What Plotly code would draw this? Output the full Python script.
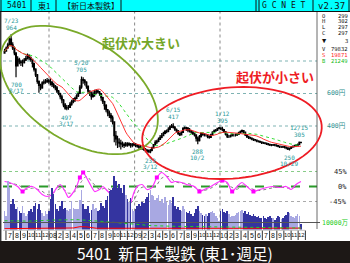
import numpy as np
import pandas as pd
import plotly.graph_objects as go

W, H = 350, 263
def xp(v): return v / W
def yp(v): return 1 - v / H

# ---------------- data ----------------
week_start = "2007-06-25"
first_open = 848
last_open = 299
close = [860, 880, 900, 935, 900, 880, 850, 770, 810, 795,
         790, 790, 805, 815, 835, 820, 810, 785, 750, 715,
         675, 650, 635, 665, 670, 675, 680, 675, 670, 655,
         645, 635, 615, 600, 580, 560, 530, 510, 515, 515,
         535, 550, 560, 570, 585, 600, 640, 685, 680, 670,
         645, 615, 600, 580, 595, 610, 615, 610, 600, 575,
         550, 525, 500, 480, 465, 450, 425, 340, 320, 300,
         295, 290, 285, 280, 290, 285, 290, 282, 285, 288,
         280, 276, 270, 265, 262, 258, 250, 245, 240, 250,
         265, 285, 300, 305, 318, 330, 340, 355, 365, 368,
         380, 395, 400, 392, 380, 370, 355, 345, 360, 385,
         390, 385, 375, 370, 362, 355, 345, 325, 310, 335,
         355, 350, 345, 345, 335, 330, 345, 362, 370, 375,
         385, 388, 383, 378, 365, 350, 335, 335, 340, 345,
         345, 345, 348, 358, 365, 372, 362, 345, 335, 330,
         326, 320, 316, 314, 308, 305, 302, 298, 296, 294,
         290, 287, 284, 283, 284, 283, 279, 276, 272, 272,
         271, 270, 265, 258, 262, 270, 275, 277, 281, 286,
         300, 297]
high = [875, 890, 912, 945, 964, 915, 890, 850, 830, 820,
        806, 810, 818, 832, 846, 840, 828, 812, 790, 755,
        720, 680, 660, 676, 686, 690, 696, 690, 692, 675,
        666, 652, 646, 622, 605, 592, 566, 542, 530, 530,
        548, 562, 572, 580, 595, 612, 652, 705, 700, 690,
        675, 645, 620, 612, 612, 623, 626, 623, 615, 600,
        580, 555, 535, 505, 495, 480, 465, 420, 370, 340,
        325, 315, 305, 298, 302, 300, 300, 296, 295, 298,
        295, 290, 284, 283, 275, 270, 265, 258, 255, 258,
        272, 290, 312, 316, 330, 345, 357, 365, 375, 378,
        392, 405, 412, 417, 400, 385, 375, 360, 368, 392,
        397, 396, 394, 388, 375, 368, 360, 348, 335, 345,
        362, 362, 356, 352, 348, 342, 352, 368, 378, 382,
        390, 394, 392, 395, 380, 368, 352, 345, 348, 352,
        353, 354, 355, 364, 372, 378, 376, 365, 348, 340,
        334, 330, 325, 320, 317, 312, 310, 306, 303, 300,
        298, 295, 291, 290, 290, 290, 287, 283, 280, 278,
        278, 277, 274, 268, 268, 275, 280, 284, 287, 292,
        305, 302]
low = [845, 858, 875, 895, 890, 868, 836, 700, 770, 780,
       770, 765, 785, 800, 810, 805, 795, 760, 735, 702,
       660, 605, 620, 630, 655, 660, 665, 660, 650, 640,
       632, 620, 603, 590, 565, 540, 515, 500, 497, 500,
       512, 525, 540, 548, 565, 578, 600, 630, 660, 650,
       630, 600, 585, 562, 575, 580, 595, 600, 585, 555,
       535, 500, 485, 460, 450, 425, 410, 300, 280, 265,
       270, 255, 270, 265, 272, 272, 275, 266, 270, 276,
       270, 266, 260, 254, 252, 248, 238, 236, 235, 233,
       245, 262, 280, 290, 300, 315, 325, 338, 350, 355,
       362, 375, 388, 385, 370, 360, 345, 338, 342, 362,
       378, 370, 362, 360, 352, 345, 335, 305, 288, 305,
       330, 340, 336, 335, 325, 322, 328, 342, 358, 365,
       370, 378, 375, 368, 358, 342, 326, 326, 330, 335,
       336, 335, 338, 345, 355, 360, 355, 338, 326, 320,
       318, 312, 308, 306, 300, 298, 295, 290, 289, 287,
       283, 280, 277, 276, 277, 276, 272, 269, 265, 265,
       264, 262, 257, 252, 250, 258, 266, 270, 274, 278,
       284, 297]
# weekly volume (thousand shares)
volume = [270000, 200000, 700000, 600000, 370000, 440000, 370000, 300000, 320000, 270000,
          230000, 340000, 240000, 200000, 220000, 260000, 300000, 250000, 330000, 380000,
          300000, 360000, 280000, 240000, 200000, 260000, 220000, 270000, 440000, 600000,
          510000, 370000, 300000, 270000, 340000, 410000, 300000, 310000, 280000, 270000,
          300000, 410000, 310000, 300000, 290000, 300000, 420000, 560000, 370000, 300000,
          300000, 330000, 240000, 280000, 370000, 300000, 310000, 260000, 280000, 380000,
          340000, 310000, 420000, 480000, 550000, 560000, 600000, 770000, 700000, 600000,
          650000, 600000, 520000, 640000, 500000, 440000, 400000, 450000, 300000, 260000,
          300000, 340000, 360000, 330000, 400000, 380000, 430000, 470000, 520000, 560000,
          500000, 480000, 420000, 450000, 500000, 400000, 430000, 380000, 460000, 400000,
          350000, 420000, 380000, 460000, 340000, 300000, 320000, 280000, 260000, 340000,
          300000, 250000, 230000, 270000, 220000, 200000, 240000, 300000, 330000, 260000,
          240000, 210000, 190000, 220000, 200000, 230000, 250000, 270000, 230000, 200000,
          170000, 120000, 260000, 300000, 250000, 230000, 270000, 220000, 180000, 200000,
          190000, 210000, 230000, 250000, 260000, 280000, 240000, 260000, 220000, 250000,
          210000, 190000, 220000, 200000, 180000, 200000, 170000, 160000, 190000, 170000,
          150000, 180000, 200000, 170000, 160000, 140000, 170000, 200000, 180000, 150000,
          160000, 190000, 210000, 250000, 230000, 200000, 180000, 170000, 200000, 220000,
          190000, 79832]

osc_week = [0, 3, 8, 11, 14, 17, 20, 23, 26, 29, 32, 34, 37, 39, 41, 44, 46, 48, 50, 53,
            55, 58, 60, 62, 65, 68, 71, 74, 77, 79, 81, 84, 87, 90, 93, 96, 99, 102, 104, 108,
            111, 116, 119, 122, 126, 130, 133, 136, 139, 142, 145, 148, 152, 156, 160, 164,
            168, 172, 175, 178, 181]
osc_val = [15, 12, 0, -15, -3, 0, -9, -24, -30, -24, -3, 6, -15, -33, -24, 0, 27, 42, 27, 0,
           -15, -9, 0, -9, -24, -45, -60, -63, -48, -18, 0, 6, -9, -3, 27, 42, 30, 12, 15, 12,
           6, 0, -15, -9, 0, 12, 18, 12, -15, 0, 12, 0, -15, -9, -3, 0, -3, 0, -9, 6, 15]
sig_week = [2, 8, 13, 17, 22, 27, 31, 35, 39, 43, 47, 50, 54, 58, 62, 66, 70, 75, 79, 83,
            88, 92, 96, 100, 104, 108, 113, 117, 121, 126, 130, 134, 138, 142, 146, 150,
            155, 160, 165, 170, 175, 180]
sig_val = [10, 5, -8, -5, -12, -25, -15, -5, -20, -15, 15, 30, 10, -8, -5, -15, -40, -55, -40, -5,
           0, 0, 25, 30, 15, 10, 8, -5, -12, -5, 8, 15, 0, -8, 5, -5, -12, -8, -3, -3, -5, 3]
sq_week = [11, 46, 48, 93, 119, 133, 139, 152]
sq_val = [-15, 27, 42, 27, -15, 18, -15, -15]

sell_week = [0, 30, 42, 46, 50, 56, 80, 110, 140, 181]
sell_bal = [12000, 14000, 22000, 40000, 38000, 18000, 16000, 15000, 17000, 19871]
buy_week = [0, 15, 30, 45, 60, 75, 90, 105, 120, 135, 150, 165, 181]
buy_bal = [125000, 120000, 135000, 140000, 115000, 80000, 55000, 45000, 40000, 34000, 29000, 25000, 21249]

ext_week = [4, 7, 38, 47, 89, 103, 118, 133, 174, 180]
ext_kind = ["H", "L", "L", "H", "L", "H", "L", "H", "L", "H"]
ext_date = ["7/23", "8/17", "3/17", "5/20", "3/12", "6/15", "10/2", "1/12", "10/29", "12/15"]

price_grid = [800, 600, 400]
price_grid_labels = ["", "600円", "400円"]
osc_grid = [45, 0, -45]
osc_grid_labels = ["45%", "0%", "-45%"]
vol_ref = 100000
vol_ref_label = "10000万"

# ---------------- geometry ----------------
PX0, PX1 = 3, 317
TOP, BOT = 12, 229.5

def lin_range(v1, p1, v2, p2):
    s = (v2 - v1) / (p2 - p1)
    return [v1 + (BOT - p1) * s, v1 + (TOP - p1) * s]

price_range = lin_range(400, 126, 800, 61)
osc_range = lin_range(45, 171.5, -45, 201.5)
vol_range = lin_range(0, BOT, vol_ref, 222.5)

t08, t10 = pd.Timestamp("2008-01-01"), pd.Timestamp("2010-01-01")
dpp = (t10 - t08) / (220 - 49)
x_range = [str(t08 - dpp * (49 - PX0)), str(t10 + dpp * (PX1 - 220))]

dates = pd.date_range(week_start, periods=len(close), freq="7D")
opens = [first_open] + close[:-2] + [last_open]
cs = pd.Series(close)
ma13 = cs.rolling(13, min_periods=1).mean()
ma26 = cs.rolling(26, min_periods=1).mean()
up = [c >= o for c, o in zip(close, opens)]
vcol = ["#a8a8e2" if u else "#3434a0" for u in up]

fig = go.Figure()
fig.add_trace(go.Bar(x=dates, y=volume, yaxis="y3", marker=dict(color=vcol, line=dict(width=0)),
                     width=2.4 * 86400000))
fig.add_trace(go.Scatter(x=dates[sell_week], y=sell_bal, yaxis="y3", mode="lines",
                         line=dict(color="#ff0000", width=1)))
fig.add_trace(go.Scatter(x=dates[buy_week], y=buy_bal, yaxis="y3", mode="lines",
                         line=dict(color="#22cc22", width=1, dash="dot")))
fig.add_trace(go.Scatter(x=dates[sig_week], y=sig_val, yaxis="y2", mode="lines",
                         line=dict(color="#808080", width=1, dash="dot", shape="spline")))
fig.add_trace(go.Scatter(x=dates[osc_week], y=osc_val, yaxis="y2", mode="lines",
                         line=dict(color="#ff33ff", width=1.2, shape="spline", smoothing=0.7)))
fig.add_trace(go.Scatter(x=dates[sq_week], y=sq_val, yaxis="y2", mode="markers",
                         marker=dict(symbol="square", size=4, color="#ff00ff")))
fig.add_trace(go.Scatter(x=dates, y=ma26, mode="lines", line=dict(color="#33dd33", width=1, dash="dot")))
fig.add_trace(go.Scatter(x=dates, y=ma13, mode="lines", line=dict(color="#ff2020", width=0.9)))
fig.add_trace(go.Candlestick(x=dates, open=opens, high=high, low=low, close=close,
                             increasing=dict(line=dict(color="black", width=1.2), fillcolor="white"),
                             decreasing=dict(line=dict(color="black", width=1.2), fillcolor="black"),
                             whiskerwidth=0))

shapes = []
ann = []
def A(**kw):
    d = dict(showarrow=False, borderpad=0, xanchor="center", yanchor="middle")
    d.update(kw)
    ann.append(d)

# gridlines price
for g in price_grid:
    shapes.append(dict(type="line", xref="paper", yref="y", x0=xp(PX0), x1=xp(PX1), y0=g, y1=g,
                       line=dict(color="#7fb3b3", width=1, dash="dot"), layer="below"))
for g, lab in zip(price_grid, price_grid_labels):
    if lab:
        A(text=lab, xref="paper", yref="y", x=xp(346), y=g, xanchor="right",
          font=dict(family="DejaVu Sans Mono, Noto Sans CJK JP", size=6.5, color="#2f8f8f"))
# oscillator lines
osc_styles = {45: dict(color="#88cc88", width=1, dash="dot"), 0: dict(color="#2a9a2a", width=2, dash="dash"),
              -45: dict(color="#aaaaaa", width=1, dash="dot")}
for g, lab in zip(osc_grid, osc_grid_labels):
    shapes.append(dict(type="line", xref="paper", yref="y2", x0=xp(PX0), x1=xp(PX1), y0=g, y1=g,
                       line=osc_styles[g], layer="below"))
    A(text=lab, xref="paper", yref="y2", x=xp(348), y=g, xanchor="right",
      font=dict(family="DejaVu Sans Mono", size=7, color="#222"))
# volume ref line
shapes.append(dict(type="line", xref="paper", yref="y3", x0=xp(PX0), x1=xp(320), y0=vol_ref, y1=vol_ref,
                   line=dict(color="#555555", width=1)))
A(text=vol_ref_label, xref="paper", yref="y3", x=xp(350), y=vol_ref, xanchor="right",
  font=dict(family="DejaVu Sans Mono, Noto Sans CJK JP", size=6.5, color="#22cc22"))
# year lines
for yr in ["2008-01-01", "2009-01-01", "2010-01-01"]:
    shapes.append(dict(type="line", xref="x", yref="paper", x0=yr, x1=yr, y0=yp(BOT), y1=yp(TOP),
                       line=dict(color="#888888", width=1, dash="dot"), layer="below"))
# month row
months = pd.date_range("2007-07-01", "2011-01-01", freq="MS")
shapes.append(dict(type="rect", xref="paper", yref="paper", x0=xp(PX0), x1=xp(350), y0=yp(240.5), y1=yp(230),
                   fillcolor="white", line=dict(width=0)))
for m in months:
    shapes.append(dict(type="line", xref="x", yref="paper", x0=m, x1=m, y0=yp(240), y1=yp(230.5),
                       line=dict(color="#333", width=1)))
shapes.append(dict(type="line", xref="paper", yref="paper", x0=xp(PX0), x1=xp(305), y0=yp(230.3), y1=yp(230.3),
                   line=dict(color="#999", width=0.6)))
for m in months[:-1]:
    mid = m + (m + pd.offsets.MonthBegin(1) - m) / 2
    lab = f"{m.year % 100:02d}" if m.month == 1 else str(m.month)
    A(text=lab, xref="x", yref="paper", x=mid, y=yp(235.3),
      font=dict(family="Liberation Sans", size=7 if m.month < 10 else 6, color="#111"))
# frame lines
shapes.append(dict(type="line", xref="paper", yref="paper", x0=xp(0.7), x1=xp(0.7), y0=yp(241), y1=yp(11),
                   line=dict(color="#333", width=1.5)))
shapes.append(dict(type="line", xref="paper", yref="paper", x0=xp(PX1), x1=xp(PX1), y0=yp(229), y1=yp(11),
                   line=dict(color="#444", width=0.8)))
# top bar
shapes.append(dict(type="rect", xref="paper", yref="paper", x0=0, x1=1, y0=yp(11.5), y1=1,
                   fillcolor="#00ffff", line=dict(width=0)))
shapes.append(dict(type="line", xref="paper", yref="paper", x0=0, x1=1, y0=yp(11.5), y1=yp(11.5),
                   line=dict(color="#111", width=1)))
for sx in [1, 31, 56, 121, 256, 259, 313, 349]:
    shapes.append(dict(type="line", xref="paper", yref="paper", x0=xp(sx), x1=xp(sx), y0=yp(11.5), y1=1,
                       line=dict(color="#111", width=1)))
A(text="5401", xref="paper", yref="paper", x=xp(16.5), y=yp(5.8), font=dict(family="DejaVu Sans Mono", size=8, color="#111"))
A(text="東1", xref="paper", yref="paper", x=xp(44), y=yp(5.8), font=dict(family="Noto Sans CJK JP", size=8, color="#111"))
A(text="【新日本製鉄】", xref="paper", yref="paper", x=xp(91), y=yp(5.8), font=dict(family="Noto Sans CJK JP", size=8, color="#111"))
A(text="G C N E T", xref="paper", yref="paper", x=xp(284), y=yp(5.8), font=dict(family="DejaVu Sans Mono", size=8, color="#111"))
A(text="v2.37", xref="paper", yref="paper", x=xp(331), y=yp(5.8), font=dict(family="DejaVu Sans Mono", size=9, color="#111"))
# bottom band
shapes.append(dict(type="rect", xref="paper", yref="paper", x0=0, x1=1, y0=0, y1=yp(241),
                   fillcolor="#1d1816", line=dict(width=0)))
A(text="5401  新日本製鉄 (東1･週足)", xref="paper", yref="paper", x=xp(175), y=yp(252.5),
  font=dict(family="Noto Sans CJK JP", size=15.5, color="white"))
# info column
chg = close[-1] - close[-2]
info = [("O", str(opens[-1]), "#111", 15.5), ("H", str(high[-1]), "#111", 21.3), ("L", str(low[-1]), "#111", 27.1),
        ("C", str(close[-1]), "#111", 32.9), ("▼" if chg < 0 else "▲", str(abs(chg)), "#111", 41.5),
        ("V", str(volume[-1]), "#111", 49.3), ("S", str(sell_bal[-1]), "#ff2020", 55.1),
        ("B", str(buy_bal[-1]), "#20bb20", 60.9)]
for k, v, c, yy in info:
    A(text=k, xref="paper", yref="paper", x=xp(321), y=yp(yy), xanchor="left",
      font=dict(family="DejaVu Sans Mono", size=5.5 if k not in "▼▲" else 7, color=c))
    A(text=v, xref="paper", yref="paper", x=xp(349), y=yp(yy), xanchor="right",
      font=dict(family="DejaVu Sans Mono", size=5.5, color=c))
# extreme labels
for wk, kind, dt in zip(ext_week, ext_kind, ext_date):
    if kind == "H":
        pv = high[wk]
        lines = [(dt, 13.5), (str(pv), 6.5)]
    else:
        pv = low[wk]
        lines = [(str(pv), -7), (dt, -13.5)]
    for txt, sh in lines:
        A(text=txt, xref="x", yref="y", x=dates[wk], y=pv, yshift=sh,
          font=dict(family="DejaVu Sans Mono", size=6, color="#2a9a9a"))
# ellipses & captions
def ellipse(cx, cy, a, b, th):
    t = np.linspace(0, 2 * np.pi, 90, endpoint=False)
    r = np.radians(th)
    ex = cx + a * np.cos(t) * np.cos(r) - b * np.sin(t) * np.sin(r)
    ey = cy + a * np.cos(t) * np.sin(r) + b * np.sin(t) * np.cos(r)
    return "M " + " L ".join(f"{xp(u):.5f},{yp(v):.5f}" for u, v in zip(ex, ey)) + " Z"
shapes.append(dict(type="path", xref="paper", yref="paper", path=ellipse(79, 90, 88, 51, 33),
                   line=dict(color="#7aaa2a", width=1.8)))
shapes.append(dict(type="path", xref="paper", yref="paper", path=ellipse(232, 133, 90, 45.5, -5),
                   line=dict(color="#ee1c24", width=1.8)))
A(text="<b>起伏が大きい</b>", xref="paper", yref="paper", x=xp(141), y=yp(42),
  font=dict(family="Noto Sans CJK JP", size=13, color="#74a628"))
A(text="<b>起伏が小さい</b>", xref="paper", yref="paper", x=xp(275), y=yp(77),
  font=dict(family="Noto Sans CJK JP", size=13, color="#ee1c24"))

ax = dict(visible=False, fixedrange=True)
fig.update_layout(
    width=W, height=H, margin=dict(l=0, r=0, t=0, b=0), autosize=False,
    paper_bgcolor="white", plot_bgcolor="rgba(0,0,0,0)", showlegend=False,
    xaxis=dict(ax, type="date", domain=[xp(PX0), xp(PX1)], range=x_range, rangeslider=dict(visible=False)),
    yaxis=dict(ax, domain=[yp(BOT), yp(TOP)], range=price_range),
    yaxis2=dict(ax, domain=[yp(BOT), yp(TOP)], range=osc_range, overlaying="y"),
    yaxis3=dict(ax, domain=[yp(BOT), yp(TOP)], range=vol_range, overlaying="y"),
    shapes=shapes, annotations=ann, bargap=0,
)
fig.write_html("out.html")
